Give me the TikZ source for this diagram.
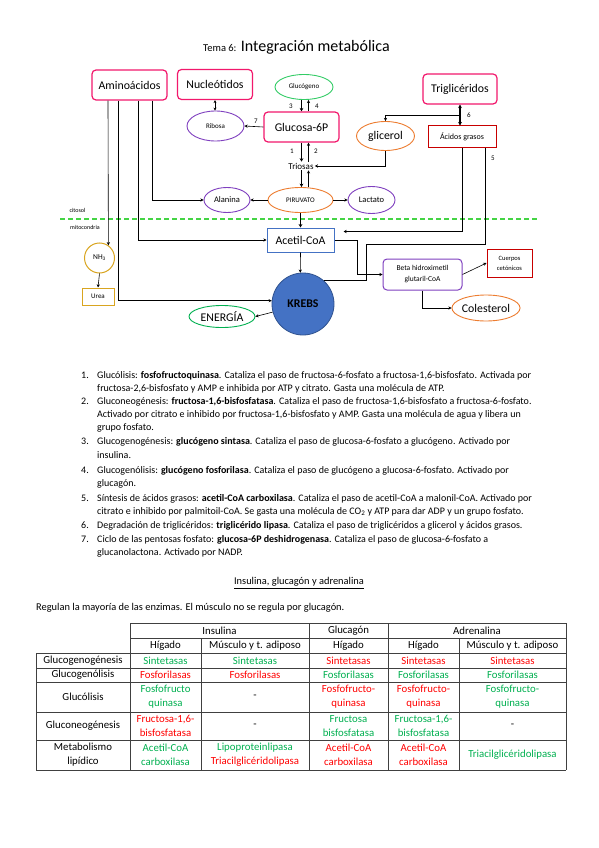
\documentclass[tikz,border=0pt]{standalone}
\usepackage{fontspec}
\setmainfont{Carlito}
\usepackage{xcolor}
\usetikzlibrary{arrows.meta,positioning,shapes.geometric}
\definecolor{rosa}{HTML}{F2186C}
\definecolor{morado}{HTML}{7F3FBF}
\definecolor{naranja}{HTML}{ED7D31}
\definecolor{rojo}{HTML}{C80000}
\definecolor{azul}{HTML}{4472C4}
\definecolor{azuloscuro}{HTML}{2F528F}
\definecolor{oro}{HTML}{D9A520}
\definecolor{verde}{HTML}{00B050}
\definecolor{verdeclaro}{HTML}{33CC66}
\definecolor{discont}{HTML}{44D444}
\definecolor{rojotxt}{HTML}{FF0000}
\definecolor{rejilla}{HTML}{404040}

\begin{document}
\begin{tikzpicture}[
  x=1pt,y=-1pt,
  caja/.style={draw=rosa,line width=1.2pt,rounded corners=4pt,fill=white,
               font=\fontsize{11.8}{13}\selectfont,minimum width=75pt,minimum height=30pt,inner sep=1pt},
  ovalo/.style={ellipse,line width=0.9pt,fill=white,inner sep=0pt},
  recto/.style={line width=1pt,fill=white,inner sep=1pt},
  flecha/.style={-{Stealth[length=3.2pt,width=3.2pt]},line width=0.6pt},
  gruesa/.style={-{Stealth[length=3.5pt,width=3.8pt]},line width=1.6pt},
  doble/.style={{Stealth[length=3pt,width=3pt]}-{Stealth[length=3pt,width=3pt]},line width=0.6pt},
  linea/.style={line width=0.6pt},
  num/.style={font=\fontsize{7}{8}\selectfont,inner sep=0pt},
  txt/.style={anchor=base west,font=\fontsize{10}{12}\selectfont,inner sep=0pt},
  celda/.style={font=\fontsize{10.8}{14}\selectfont,align=center,inner sep=0pt}
]
  \useasboundingbox[fill=white] (0,0) rectangle (599,848);

  % titulo
  \node[anchor=base west,inner sep=0pt,font=\fontsize{10.5}{12}\selectfont] (tema) at (203,52) {Tema 6:};
  \node[base right=4pt of tema,inner sep=0pt,font=\fontsize{16}{18}\selectfont] (titulo) {Integración metabólica};

  % esquema
  \node[caja] (amino) at (129.5,85) {Aminoácidos};
  \node[caja] (nucleo) at (215,84.5) {Nucleótidos};
  \node[ovalo,draw=verdeclaro,minimum width=58pt,minimum height=25pt,font=\fontsize{7}{8}\selectfont] (glucogeno) at (304,87) {Glucógeno};
  \node[ovalo,draw=morado,minimum width=57pt,minimum height=30pt,font=\fontsize{7}{8}\selectfont] (ribosa) at (215.5,126) {Ribosa};
  \node[caja] (g6p) at (301.5,127) {Glucosa-6P};
  \node[ovalo,draw=naranja,minimum width=58pt,minimum height=29pt,font=\fontsize{11.8}{13}\selectfont] (glicerol) at (385.5,136) {glicerol};
  \node[caja,minimum width=74pt] (trig) at (460,89) {Triglicéridos};
  \node[recto,draw=rojo,minimum width=68pt,minimum height=21pt,font=\fontsize{8}{9}\selectfont] (acidos) at (462,136.5) {Ácidos grasos};
  \node[inner sep=1pt,font=\fontsize{9}{10}\selectfont] (triosas) at (301,166) {Triosas};
  \node[ovalo,draw=naranja,minimum width=65pt,minimum height=25pt,font=\fontsize{7}{8}\selectfont] (piruvato) at (300.5,200) {PIRUVATO};
  \node[ovalo,draw=morado,minimum width=46pt,minimum height=25pt,font=\fontsize{8.5}{9}\selectfont] (alanina) at (227,200) {Alanina};
  \node[ovalo,draw=morado,minimum width=47pt,minimum height=27pt,font=\fontsize{8.5}{9}\selectfont] (lactato) at (371.5,200) {Lactato};

  \coordinate (membI) at (60,219);
  \coordinate (membD) at (537,219);
  \draw[discont,line width=1.1pt,dash pattern=on 5pt off 3pt] (membI) -- (membD);
  \node[font=\fontsize{6}{7}\selectfont,inner sep=0pt] (citosol) at (77.5,210) {citosol};
  \node[font=\fontsize{6}{7}\selectfont,inner sep=0pt] (mito) at (85,227) {mitocondria};

  \node[recto,draw=azul,minimum width=67pt,minimum height=24pt,font=\fontsize{11.8}{13}\selectfont] (acetil) at (300.5,240) {Acetil-CoA};
  \node[circle,draw=oro,line width=1pt,fill=white,minimum size=30pt,inner sep=0pt,font=\fontsize{7.5}{8}\selectfont] (nh3) at (99.5,258) {NH\textsubscript{3}};
  \node[recto,draw=oro,minimum width=32pt,minimum height=17pt,font=\fontsize{7}{8}\selectfont] (urea) at (98,296.5) {Urea};
  \node[circle,fill=azul,draw=azuloscuro,line width=0.8pt,minimum size=62pt,inner sep=0pt,font=\bfseries\fontsize{11.8}{13}\selectfont] (krebs) at (303,304) {KREBS};
  \node[ovalo,draw=verde,minimum width=66pt,minimum height=22pt,font=\fontsize{11.8}{13}\selectfont] (energia) at (222,316.5) {ENERGÍA};
  \node[recto,draw=morado,rounded corners=4pt,minimum width=79pt,minimum height=31pt,align=center,font=\fontsize{7.5}{11}\selectfont] (beta) at (422.5,274.5) {Beta hidroximetil\\glutaril-CoA};
  \node[recto,draw=rojo,minimum width=45pt,minimum height=28pt,align=center,font=\fontsize{6.5}{10}\selectfont] (cuerpos) at (509.5,263) {Cuerpos\\cetónicos};
  \node[ovalo,draw=naranja,minimum width=66pt,minimum height=26pt,font=\fontsize{11.8}{13}\selectfont] (colest) at (486,308) {Colesterol};

  % numeros de las rutas
  \node[num] (n1) at (292,151) {1};
  \node[num] (n2) at (316,151) {2};
  \node[num] (n3) at (291,106) {3};
  \node[num] (n4) at (317,106) {4};
  \node[num] (n5) at (493,158) {5};
  \node[num] (n6) at (469,115) {6};
  \node[num] (n7) at (256,121) {7};

  % flechas
  \draw[gruesa] (glucogeno.south -| g6p.north) -- (g6p.north);
  \draw[flecha] ([xshift=7pt]g6p.north) -- ([xshift=7pt]g6p.north |- glucogeno.south);
  \draw[gruesa] (g6p.south) -- (g6p.south |- triosas.north);
  \draw[flecha] ([xshift=7pt]g6p.south |- triosas.north) -- ([xshift=7pt]g6p.south);
  \draw[gruesa] (g6p.south |- triosas.south) -- (g6p.south |- piruvato.north);
  \draw[flecha] ([xshift=7pt]g6p.south |- piruvato.north) -- ([xshift=7pt]g6p.south |- triosas.south);
  \draw[gruesa] (piruvato.south -| acetil.north) -- (acetil.north);
  \draw[flecha] (acetil.south) -- (krebs.95);
  \draw[flecha] (g6p.west) -- (ribosa.east);
  \draw[doble] (nucleo.south) -- (nucleo.south |- ribosa.north);
  \draw[flecha] (piruvato.west) -- (alanina.east);
  \draw[flecha] (piruvato.east) -- (lactato.west);
  \draw[{Stealth[length=3.5pt,width=3.8pt]}-{Stealth[length=3.5pt,width=3.8pt]},line width=1.6pt] (trig.south) -- (trig.south |- acidos.north);
  \draw[flecha] (trig.south) ++(0,11) -| (glicerol.north);
  \draw[flecha] (glicerol.south) |- (triosas.east);
  \draw[flecha] (acidos.south) |- ([xshift=9pt,yshift=-4pt]acetil.north east);
  \draw[linea] ([xshift=-11pt]acidos.south east) |- ([xshift=32pt,yshift=8pt]acetil.south east) |- (krebs.48);
  \draw[flecha] (acetil.east) -- ++(23,0) |- (beta.west);
  \draw[flecha] (beta.east) -- (cuerpos.west);
  \draw[flecha] (beta.south) |- (colest.west);
  \draw[flecha] (krebs.195) -- (energia.east);
  \draw[flecha] (nh3.south) -- (urea.north);
  \draw[flecha] ([xshift=-21.5pt]amino.south) -- (nh3.55);
  \draw[flecha] ([xshift=-11.5pt]amino.south) |- (krebs.174);
  \draw[flecha] ([xshift=8.5pt]amino.south) |- (acetil.west);
  \draw[flecha] ([xshift=22.5pt]amino.south) |- (alanina.west);

  % lista de enzimas
  \node[txt] (i1) at (81,378) {1.};
  \node[txt] (l1a) at (97,378) {Glucólisis: \textbf{fosfofructoquinasa}. Cataliza el paso de fructosa-6-fosfato a fructosa-1,6-bisfosfato. Activada por};
  \node[txt] (l1b) at (97,391) {fructosa-2,6-bisfosfato y AMP e inhibida por ATP y citrato. Gasta una molécula de ATP.};
  \node[txt] (i2) at (81,404) {2.};
  \node[txt] (l2a) at (97,404) {Gluconeogénesis: \textbf{fructosa-1,6-bisfosfatasa}. Cataliza el paso de fructosa-1,6-bisfosfato a fructosa-6-fosfato.};
  \node[txt] (l2b) at (97,417.5) {Activado por citrato e inhibido por fructosa-1,6-bisfosfato y AMP. Gasta una molécula de agua y libera un};
  \node[txt] (l2c) at (97,430.5) {grupo fosfato.};
  \node[txt] (i3) at (81,444) {3.};
  \node[txt] (l3a) at (97,444) {Glucogenogénesis: \textbf{glucógeno sintasa}. Cataliza el paso de glucosa-6-fosfato a glucógeno. Activado por};
  \node[txt] (l3b) at (97,458) {insulina.};
  \node[txt] (i4) at (81,473) {4.};
  \node[txt] (l4a) at (97,473) {Glucogenólisis: \textbf{glucógeno fosforilasa}. Cataliza el paso de glucógeno a glucosa-6-fosfato. Activado por};
  \node[txt] (l4b) at (97,486) {glucagón.};
  \node[txt] (i5) at (81,501.5) {5.};
  \node[txt] (l5a) at (97,501.5) {Síntesis de ácidos grasos: \textbf{acetil-CoA carboxilasa}. Cataliza el paso de acetil-CoA a malonil-CoA. Activado por};
  \node[txt] (l5b) at (97,514) {citrato e inhibido por palmitoil-CoA. Se gasta una molécula de CO\textsubscript{2} y ATP para dar ADP y un grupo fosfato.};
  \node[txt] (i6) at (81,528) {6.};
  \node[txt] (l6a) at (97,528) {Degradación de triglicéridos: \textbf{triglicérido lipasa}. Cataliza el paso de triglicéridos a glicerol y ácidos grasos.};
  \node[txt] (i7) at (81,542) {7.};
  \node[txt] (l7a) at (97,542) {Ciclo de las pentosas fosfato: \textbf{glucosa-6P deshidrogenasa}. Cataliza el paso de glucosa-6-fosfato a};
  \node[txt] (l7b) at (97,555) {glucanolactona. Activado por NADP.};

  \node[font=\fontsize{10.4}{12}\selectfont,inner sep=0pt] (seccion) at (299,583) {\underline{Insulina, glucagón y adrenalina}};
  \node[txt,font=\fontsize{10.4}{12}\selectfont] (regulan) at (36,610) {Regulan la mayoría de las enzimas. El músculo no se regula por glucagón.};

  % tabla
  \draw[rejilla,line width=0.7pt] (130,623) -- (566,623) (130,638) -- (566,638);
  \foreach \f in {653,668,682,712,740,770}
    \draw[rejilla,line width=0.7pt] (36,\f) -- (566,\f);
  \draw[rejilla,line width=0.7pt] (36,653) -- (36,770);
  \foreach \c in {130,309,388,566}
    \draw[rejilla,line width=0.7pt] (\c,623) -- (\c,770);
  \foreach \c in {201,459}
    \draw[rejilla,line width=0.7pt] (\c,638) -- (\c,770);

  \foreach \x/\y/\t [count=\i] in {219.5/630.5/Insulina, 348.5/630.5/Glucagón, 477/630.5/Adrenalina,
      165.5/645.5/Hígado, 255/645.5/Músculo y t. adiposo, 348.5/645.5/Hígado, 423.5/645.5/Hígado, 512.5/645.5/Músculo y t. adiposo,
      83/660.5/Glucogenogénesis, 83/675/Glucogenólisis, 83/697/Glucólisis, 83/726/Gluconeogénesis, 83/755/{Metabolismo\\lipídico}}
    \node[celda] (cab\i) at (\x,\y) {\t};

  \foreach \x/\y/\col/\t [count=\i] in {
      165.5/660.5/verde/Sintetasas, 255/660.5/verde/Sintetasas, 348.5/660.5/rojotxt/Sintetasas, 423.5/660.5/rojotxt/Sintetasas, 512.5/660.5/rojotxt/Sintetasas,
      165.5/675/rojotxt/Fosforilasas, 255/675/rojotxt/Fosforilasas, 348.5/675/verde/Fosforilasas, 423.5/675/verde/Fosforilasas, 512.5/675/verde/Fosforilasas,
      165.5/697/verde/{Fosfofructo\\quinasa}, 255/697/black/-, 348.5/697/rojotxt/{Fosfofructo-\\quinasa}, 423.5/697/rojotxt/{Fosfofructo-\\quinasa}, 512.5/697/verde/{Fosfofructo-\\quinasa},
      165.5/726/rojotxt/{Fructosa-1,6-\\bisfosfatasa}, 255/726/black/-, 348.5/726/verde/{Fructosa\\bisfosfatasa}, 423.5/726/verde/{Fructosa-1,6-\\bisfosfatasa}, 512.5/726/black/-,
      165.5/755/verde/{Acetil-CoA\\carboxilasa}, 255/755/black/{\textcolor{verde}{Lipoproteinlipasa}\\\textcolor{rojotxt}{Triacilglicéridolipasa}}, 348.5/755/rojotxt/{Acetil-CoA\\carboxilasa}, 423.5/755/rojotxt/{Acetil-CoA\\carboxilasa}, 512.5/755/verde/Triacilglicéridolipasa}
    \node[celda,text=\col] (cel\i) at (\x,\y) {\t};
\end{tikzpicture}
\end{document}
